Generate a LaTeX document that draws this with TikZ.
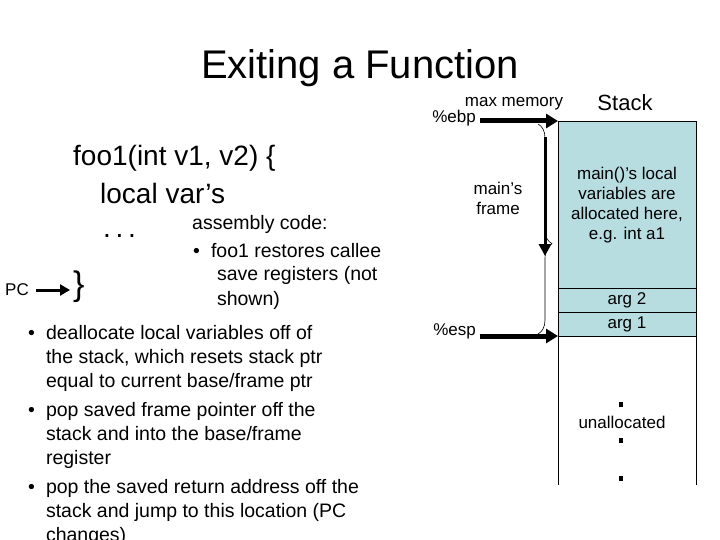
\documentclass[tikz,border=0pt]{standalone}
\usepackage{fontspec}
\setmainfont{Liberation Sans}
\usetikzlibrary{positioning,decorations.pathreplacing,arrows.meta}
\definecolor{stackblue}{RGB}{183,221,225}
\tikzset{
    body/.style={font=\fontsize{19.5}{24}\selectfont, anchor=north west, align=left, inner sep=0pt},
    code/.style={font=\fontsize{28}{33}\selectfont, anchor=west, inner sep=0pt},
    slot/.style={draw=black, fill=stackblue, line width=0.6pt},
    ptr/.style={line width=5pt, -{Triangle[length=12pt,width=14pt]}},
    small/.style={font=\fontsize{17}{20}\selectfont, inner sep=0pt}
}
\begin{document}
\begin{tikzpicture}[x=1pt,y=-1pt]
    \useasboundingbox (0,0) rectangle (720,540);
    \node (title) at (360,68) {\fontsize{40}{44}\selectfont Exiting a Function};
    % code on the left
    \node[code] (foo) at (73,158) {foo1(int v1, v2) \{};
    \node[code] (locals) at (100,193) {local var’s};
    \node[code] (dots) at (103,236) {.\,.\,.};
    \node[code, font=\fontsize{34}{38}\selectfont] (close) at (73,287) {\}};
    \node[small, anchor=west] (pc) at (5,290) {PC};
    \coordinate (pctip) at (70,290);
    \draw[line width=3pt, -{Triangle[length=10pt,width=11pt]}] (36,290) -- (pctip);
    \node[body] (asm) at (192,215) {assembly code:};
    \node[body] (b1) at (193,240) {•\hspace{11pt}\begin{tabular}[t]{@{}l@{}}foo1 restores callee\\ \hspace{6pt}save registers (not\\ \hspace{6pt}shown)\end{tabular}};
    \node[body] (steps) at (28,322) {\begin{tabular}{@{}l@{\hspace{11pt}}l@{}}
        • & deallocate local variables off of\\
          & the stack, which resets stack ptr\\
          & equal to current base/frame ptr\\[5pt]
        • & pop saved frame pointer off the\\
          & stack and into the base/frame\\
          & register\\[5pt]
        • & pop the saved return address off the\\
          & stack and jump to this location (PC\\
          & changes)
    \end{tabular}};
    % stack
    \node[font=\fontsize{22}{26}\selectfont] (stack) at (625,103) {Stack};
    \draw[slot] (558,121) rectangle (696,288);
    \draw[slot] (558,288) rectangle (696,312);
    \draw[slot] (558,312) rectangle (696,336);
    \draw[line width=0.6pt] (558,336) -- (558,485) (696,336) -- (696,485);
    \node[small, align=center] (mainvars) at (627,205) {main()’s local\\variables are\\allocated here,\\e.g. int a1};
    \node[small] (arg2) at (627,300) {arg 2};
    \node[small] (arg1) at (627,324) {arg 1};
    \node[small] (unalloc) at (622,422) {unallocated};
    \foreach \y in {404,440,478}{
        \fill (619,\y-2.5) rectangle (623,\y+2.5);
    }
    % pointers
    \coordinate (top) at (558,121);
    \coordinate (sp) at (558,336);
    \node[small, anchor=east] (ebp) at (476,118) {\%ebp};
    \node[small, anchor=east] (esp) at (476,331) {\%esp};
    \node[small] (maxmem) at (514,104) {max memory};
    \draw[ptr] (480,121) -- (top);
    \draw[ptr] (480,336) -- (sp);
    \draw[line width=3pt, -{Triangle[length=12pt,width=12pt]}] (545,137) -- (545,256);
    \node[small, align=center] (frame) at (498,198) {main’s\\frame};
    \draw[decorate, decoration={brace, amplitude=14pt, aspect=0.57}, line width=0.6pt] (538,124) -- (538,334);
\end{tikzpicture}
\end{document}
